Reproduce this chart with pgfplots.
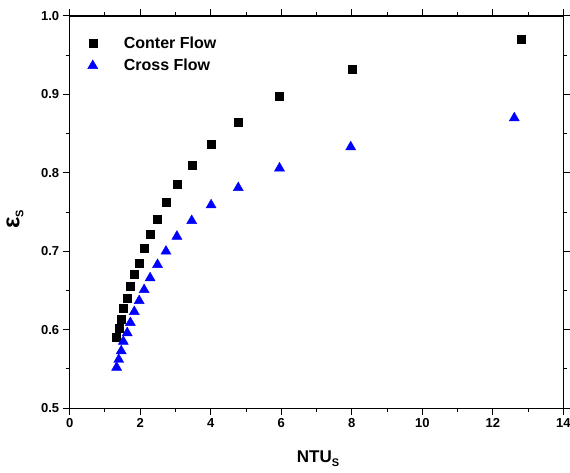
\documentclass[border=0pt]{standalone}
\usepackage{fontspec}
\setmainfont{Liberation Sans}
\usepackage{pgfplots}
\pgfplotsset{compat=1.18}
\begin{document}
\begin{tikzpicture}
\begin{axis}[
  name=ax,
  scale only axis,
  width=493.3pt, height=392pt,
  xmin=0, xmax=14, ymin=0.5, ymax=1.0,
  xtick={0,2,...,14},
  ytick={0.5,0.6,0.7,0.8,0.9,1.0},
  minor x tick num=1, minor y tick num=1,
  tick align=outside,
  major tick length=7pt, minor tick length=4pt,
  every tick/.style={black, line width=1pt},
  axis line style={line width=1.2pt},
  /pgf/number format/assume math mode=true,
  yticklabel style={/pgf/number format/.cd, fixed, fixed zerofill, precision=1},
  xticklabel style={/pgf/number format/.cd, fixed, precision=0},
  ticklabel style={font=\bfseries\fontsize{13}{16}\selectfont},
  xlabel={NTU\raisebox{-0.45ex}{\fontsize{11}{12}\selectfont S}},
  ylabel={\fontsize{24}{26}\selectfont ε\raisebox{-0.3ex}{\fontsize{11}{12}\selectfont S}},
  xlabel style={font=\bfseries\fontsize{17}{20}\selectfont, at={(axis description cs:0.503,-0.128)}, anchor=center},
  ylabel style={font=\bfseries, at={(axis description cs:-0.111,0.482)}, anchor=center},
  legend style={draw=none, fill=none, at={(axis description cs:0.03,0.957)}, anchor=north west,
    font=\bfseries\fontsize{16}{19}\selectfont, row sep=5pt,
    /tikz/every odd column/.append style={column sep=24pt}},
  legend cell align=left,
]
\addplot[only marks, mark=square*, mark size=4pt, black] coordinates {
(1.33,0.590) (1.39,0.602) (1.45,0.614) (1.52,0.627) (1.62,0.640) (1.71,0.655)
(1.82,0.671) (1.96,0.685) (2.11,0.704) (2.27,0.722) (2.48,0.741) (2.73,0.763)
(3.04,0.785) (3.46,0.810) (4.00,0.836) (4.78,0.865) (5.95,0.898) (8.00,0.932)
(12.80,0.970)
};
\addlegendentry{Conter Flow}
\addplot[only marks, mark=triangle*, mark size=5.8pt, blue] coordinates {
(1.33,0.552) (1.39,0.562) (1.46,0.573) (1.52,0.585) (1.63,0.596) (1.72,0.609)
(1.83,0.623) (1.97,0.637) (2.11,0.651) (2.28,0.666) (2.49,0.683) (2.73,0.700)
(3.04,0.719) (3.46,0.739) (4.01,0.759) (4.78,0.781) (5.95,0.806) (7.97,0.833)
(12.61,0.870)
};
\addlegendentry{Cross Flow}
\end{axis}
\pgfresetboundingbox
\path[use as bounding box] ([shift={(-69.7pt,-64pt)}]ax.south west) rectangle ([shift={(6.7pt,16pt)}]ax.north east);
\end{tikzpicture}
\end{document}
